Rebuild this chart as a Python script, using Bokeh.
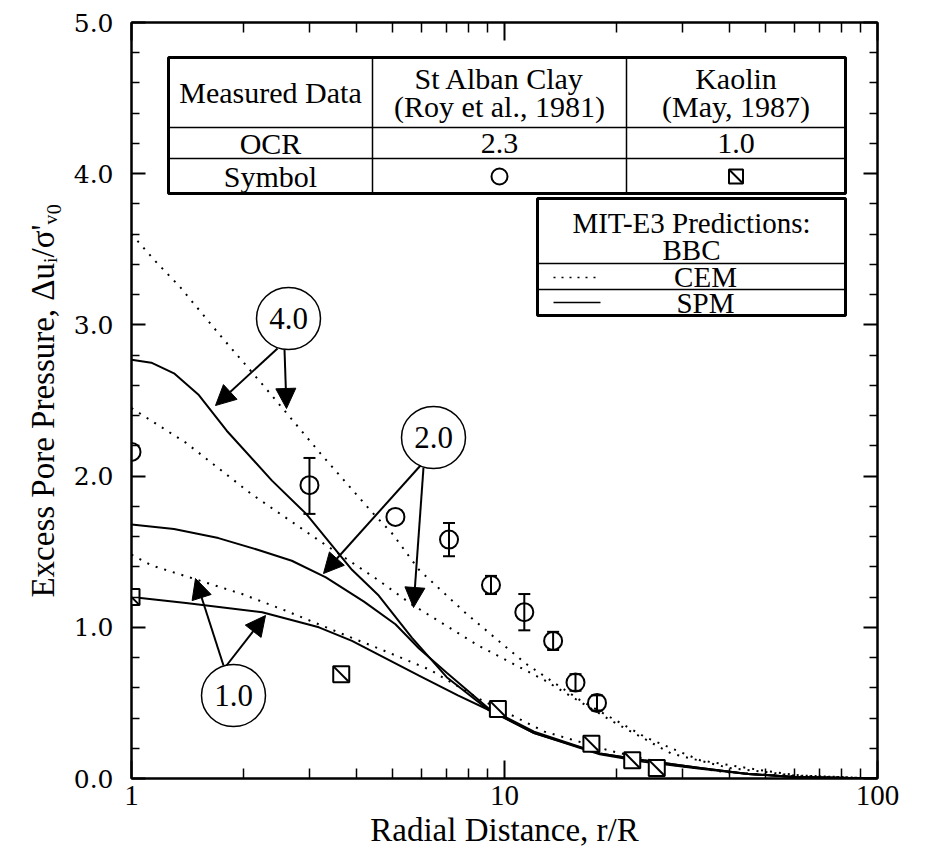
import numpy as np
from bokeh.plotting import figure
from bokeh.models import (FixedTicker, PrintfTickFormatter, LogAxis, LinearAxis, Range1d,
                          Whisker, TeeHead, Arrow, NormalHead, ColumnDataSource)
from bokeh.embed import file_html
from bokeh.resources import INLINE
from bokeh.core.properties import value

# ---------------- data ----------------
x_major = [1, 10, 100]
x_minor = [2, 3, 4, 5, 6, 7, 8, 9, 20, 30, 40, 50, 60, 70, 80, 90]
y_major = [0, 1, 2, 3, 4, 5]
y_minor = [0.2, 0.4, 0.6, 0.8, 1.2, 1.4, 1.6, 1.8, 2.2, 2.4, 2.6, 2.8,
           3.2, 3.4, 3.6, 3.8, 4.2, 4.4, 4.6, 4.8]

# St Alban Clay (OCR 2.3) - circles
stalban_x = [1.0, 3.0, 5.1, 7.1, 9.2, 11.3, 13.5, 15.5, 17.7]
stalban_y = [2.16, 1.94, 1.73, 1.58, 1.28, 1.10, 0.91, 0.635, 0.50]
# error bars
err_x = [3.0, 7.1, 9.2, 11.3, 13.5, 15.5, 17.7]
err_lo = [1.75, 1.47, 1.22, 0.98, 0.85, 0.58, 0.45]
err_hi = [2.12, 1.69, 1.34, 1.22, 0.97, 0.69, 0.55]

# Kaolin (OCR 1.0) - squares
kaolin_x = [1.0, 3.65, 9.6, 17.1, 22.0, 25.6]
kaolin_y = [1.20, 0.69, 0.46, 0.23, 0.12, 0.07]

# MIT-E3 predictions, SPM (solid)
spm4_x = [1, 1.13, 1.3, 1.51, 1.8, 2.38, 2.94, 3.9, 4.6, 5.65, 7.0, 9.1, 12, 18, 23.6, 33.5, 45, 60, 100]
spm4_y = [2.77, 2.75, 2.68, 2.54, 2.30, 1.97, 1.75, 1.38, 1.21, 0.93, 0.67, 0.45, 0.30, 0.165, 0.12, 0.07, 0.03, 0.01, 0.0]
spm2_x = [1, 1.3, 1.71, 2.2, 2.69, 3.32, 4.2, 5.1, 5.9, 7.0, 9.1, 12, 18, 23.6, 33.5, 45, 60, 100]
spm2_y = [1.68, 1.65, 1.59, 1.51, 1.44, 1.33, 1.17, 1.02, 0.86, 0.70, 0.46, 0.31, 0.165, 0.12, 0.07, 0.03, 0.01, 0.0]
spm1_x = [1, 1.4, 2.24, 3.18, 3.9, 5.9, 7.5, 9.5, 12, 18, 23.6, 33.5, 45, 60, 100]
spm1_y = [1.20, 1.16, 1.10, 1.00, 0.91, 0.68, 0.55, 0.43, 0.30, 0.16, 0.11, 0.065, 0.03, 0.01, 0.0]

# MIT-E3 predictions, CEM (dotted)
cem4_x = [1, 1.15, 1.35, 1.73, 2.31, 3.21, 4.38, 5.0, 5.9, 7.9, 11.4, 15.9, 24, 33.5, 50, 62, 100]
cem4_y = [3.60, 3.43, 3.25, 2.93, 2.57, 2.15, 1.77, 1.62, 1.38, 1.09, 0.76, 0.52, 0.27, 0.12, 0.05, 0.02, 0.0]
cem2_x = [1, 1.4, 2.1, 3.2, 4.6, 5.65, 8.5, 12.8, 19.4, 28, 40, 60, 100]
cem2_y = [2.45, 2.22, 1.88, 1.57, 1.31, 1.15, 0.88, 0.65, 0.38, 0.165, 0.07, 0.02, 0.0]
cem1_x = [1, 1.13, 1.98, 2.59, 3.9, 4.6, 6.3, 8.5, 12.8, 19.4, 28, 40, 60, 100]
cem1_y = [1.48, 1.41, 1.22, 1.11, 0.93, 0.86, 0.72, 0.53, 0.31, 0.18, 0.09, 0.04, 0.015, 0.0]

# ---------------- layout helpers (annotation placement in canvas px) ----------------
FL, FR, FT, FB = 131, 877, 22, 778


def px_x(px):
    return 10 ** (2.0 * (px - FL) / (FR - FL))


def px_y(py):
    return 5.0 * (FB - py) / (FB - FT)


SERIF = "Liberation Serif"

p = figure(width=926, height=863, x_axis_type="log",
           x_range=Range1d(1, 100), y_range=Range1d(0, 5),
           output_backend="svg", toolbar_location=None,
           min_border_left=FL, min_border_right=926 - FR,
           min_border_top=FT, min_border_bottom=863 - FB)
p.grid.visible = False
p.outline_line_color = "black"
p.outline_line_width = 2
p.background_fill_color = "white"
p.border_fill_color = "white"


def style_x(ax, labels=True):
    ax.ticker = FixedTicker(ticks=x_major, minor_ticks=x_minor)
    ax.major_tick_in = 18
    ax.major_tick_out = 0
    ax.minor_tick_in = 10
    ax.minor_tick_out = 0
    ax.axis_line_width = 2
    ax.axis_line_color = "black"
    ax.major_tick_line_width = 2
    ax.minor_tick_line_width = 1.5
    ax.formatter = PrintfTickFormatter(format="%d")
    ax.major_label_text_font = SERIF
    if labels:
        ax.major_label_text_font_size = "29px"
        ax.major_label_text_color = "black"
        ax.major_label_standoff = 7
    else:
        ax.major_label_text_font_size = "6px"
        ax.major_label_text_alpha = 0
        ax.major_label_standoff = 0


def style_y(ax, labels=True):
    ax.ticker = FixedTicker(ticks=y_major, minor_ticks=y_minor)
    ax.major_tick_in = 14
    ax.major_tick_out = 0
    ax.minor_tick_in = 8
    ax.minor_tick_out = 0
    ax.axis_line_width = 2
    ax.axis_line_color = "black"
    ax.major_tick_line_width = 2
    ax.minor_tick_line_width = 1.5
    ax.formatter = PrintfTickFormatter(format="%.1f")
    ax.major_label_text_font = "DejaVu Serif"
    if labels:
        ax.major_label_text_font_size = "25px"
        ax.major_label_text_color = "black"
        ax.major_label_standoff = 18
    else:
        ax.major_label_text_font_size = "6px"
        ax.major_label_text_alpha = 0
        ax.major_label_standoff = 0


style_x(p.xaxis[0])
p.xaxis[0].axis_label = "Radial Distance, r/R"
p.xaxis[0].axis_label_text_font = SERIF
p.xaxis[0].axis_label_text_font_size = "33px"
p.xaxis[0].axis_label_text_font_style = "normal"
p.xaxis[0].axis_label_text_color = "black"
p.xaxis[0].axis_label_standoff = 4

style_y(p.yaxis[0])
p.yaxis[0].axis_label = "Excess Pore Pressure, Δuᵢ/σ'ᵥ₀"
p.yaxis[0].axis_label_text_font = SERIF
p.yaxis[0].axis_label_text_font_size = "33px"
p.yaxis[0].axis_label_text_font_style = "normal"
p.yaxis[0].axis_label_text_color = "black"
p.yaxis[0].axis_label_standoff = 10

top = LogAxis()
style_x(top, labels=False)
p.add_layout(top, "above")
right = LinearAxis()
style_y(right, labels=False)
p.add_layout(right, "right")

# ---------------- curves ----------------
for xs, ys in [(spm4_x, spm4_y), (spm2_x, spm2_y), (spm1_x, spm1_y)]:
    p.line(xs, ys, line_color="black", line_width=2)
for xs, ys in [(cem4_x, cem4_y), (cem2_x, cem2_y), (cem1_x, cem1_y)]:
    p.line(xs, ys, line_color="black", line_width=2, line_dash="2 7")

# ---------------- measured data ----------------
err_src = ColumnDataSource(dict(base=err_x, lower=err_lo, upper=err_hi))
p.add_layout(Whisker(source=err_src, base="base", lower="lower", upper="upper",
                     dimension="height", line_color="black", line_width=2,
                     upper_head=TeeHead(size=12, line_width=2, line_color="black"),
                     lower_head=TeeHead(size=12, line_width=2, line_color="black")))
p.scatter(stalban_x, stalban_y, marker="circle", size=18, fill_alpha=0,
          line_color="black", line_width=2)
p.scatter(kaolin_x, kaolin_y, marker="square", size=16, fill_color="white",
          line_color="black", line_width=2)
p.scatter(kaolin_x, kaolin_y, marker="dash", size=20, angle=-np.pi / 4,
          line_color="black", line_width=2)

# ---------------- annotations: circled OCR labels and arrows ----------------
bubble_px = [(288, 318, "4.0"), (433, 437, "2.0"), (233, 695, "1.0")]
p.ellipse([px_x(b[0]) for b in bubble_px], [px_y(b[1]) for b in bubble_px],
          width=64, height=62, width_units="screen", height_units="screen",
          fill_color="white", line_color="black", line_width=1.5)
p.text([px_x(b[0]) for b in bubble_px], [px_y(b[1]) for b in bubble_px],
       text=[b[2] for b in bubble_px], text_font=value(SERIF),
       text_font_size=value("31px"), text_align="center", text_baseline="middle")

arrows_px = [((277, 348), (215, 405)), ((284, 349), (286, 408)),
             ((420, 465), (323, 573)), ((423, 467), (413, 607)),
             ((223, 665), (195, 578)), ((226, 665), (265, 615))]
arrow_src = ColumnDataSource(dict(
    xs=[px_x(a[0][0]) for a in arrows_px], ys=[px_y(a[0][1]) for a in arrows_px],
    xe=[px_x(a[1][0]) for a in arrows_px], ye=[px_y(a[1][1]) for a in arrows_px]))
p.add_layout(Arrow(source=arrow_src, x_start="xs", y_start="ys", x_end="xe", y_end="ye",
                   line_width=2, line_color="black",
                   end=NormalHead(size=20, fill_color="black", line_color="black")))

# ---------------- measured data table ----------------
T_L, T_R, T_T, T_B = 168, 845, 57, 193
C1, C2 = 372, 626
R1, R2 = 127, 158
p.quad(left=[px_x(T_L)], right=[px_x(T_R)], top=[px_y(T_T)], bottom=[px_y(T_B)],
       fill_color="white", line_color="black", line_width=3)
p.segment(x0=[px_x(T_L), px_x(T_L), px_x(C1), px_x(C2)],
          y0=[px_y(R1), px_y(R2), px_y(T_T), px_y(T_T)],
          x1=[px_x(T_R), px_x(T_R), px_x(C1), px_x(C2)],
          y1=[px_y(R1), px_y(R2), px_y(T_B), px_y(T_B)],
          line_color="black", line_width=1.5)
c0, c1, c2 = (T_L + C1) / 2, (C1 + C2) / 2, (C2 + T_R) / 2
tab_texts = [(c0, 92, "Measured Data"), (c1, 78, "St Alban Clay"), (c1, 106, "(Roy et al., 1981)"),
             (c2, 78, "Kaolin"), (c2, 106, "(May, 1987)"),
             (c0, 143, "OCR"), (c1, 143, "2.3"), (c2, 143, "1.0"), (c0, 176, "Symbol")]
p.text([px_x(t[0]) for t in tab_texts], [px_y(t[1]) for t in tab_texts],
       text=[t[2] for t in tab_texts], text_font=value(SERIF),
       text_font_size=value("30px"), text_align="center", text_baseline="middle")
p.scatter([px_x(c1)], [px_y(176)], marker="circle", size=16, fill_alpha=0,
          line_color="black", line_width=2)
p.scatter([px_x(c2)], [px_y(176)], marker="square", size=14, fill_alpha=0,
          line_color="black", line_width=2)
p.scatter([px_x(c2)], [px_y(176)], marker="dash", size=17, angle=-np.pi / 4,
          line_color="black", line_width=2)

# ---------------- predictions legend ----------------
L_L, L_R, L_T, L_B = 537, 845, 198, 315
LR1, LR2 = 263, 289
p.quad(left=[px_x(L_L)], right=[px_x(L_R)], top=[px_y(L_T)], bottom=[px_y(L_B)],
       fill_color="white", line_color="black", line_width=3)
p.segment(x0=[px_x(L_L), px_x(L_L)], y0=[px_y(LR1), px_y(LR2)],
          x1=[px_x(L_R), px_x(L_R)], y1=[px_y(LR1), px_y(LR2)],
          line_color="black", line_width=1.5)
leg_texts = [(691, 222, "MIT-E3 Predictions:"), (691, 249, "BBC"),
             (705, 276, "CEM"), (705, 302, "SPM")]
p.text([px_x(t[0]) for t in leg_texts], [px_y(t[1]) for t in leg_texts],
       text=[t[2] for t in leg_texts], text_font=value(SERIF),
       text_font_size=value("29px"), text_align="center", text_baseline="middle")
p.line([px_x(553), px_x(600)], [px_y(277), px_y(277)], line_color="black",
       line_width=1.5, line_dash="2 6")
p.line([px_x(553), px_x(600)], [px_y(302), px_y(302)], line_color="black",
       line_width=1.5)

open("out.html", "w").write(file_html(p, INLINE))
